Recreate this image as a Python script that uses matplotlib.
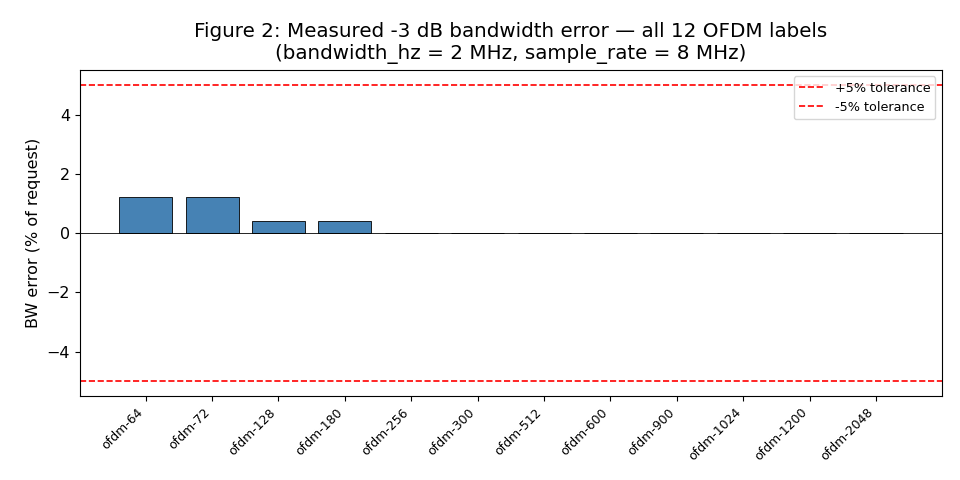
import matplotlib
matplotlib.use("Agg")
import matplotlib.pyplot as plt
import numpy as np

labels = ["ofdm-64", "ofdm-72", "ofdm-128", "ofdm-180", "ofdm-256", "ofdm-300",
          "ofdm-512", "ofdm-600", "ofdm-900", "ofdm-1024", "ofdm-1200", "ofdm-2048"]
bw_error_pct = [1.2, 1.2, 0.4, 0.4, 0.0, 0.0, 0.0, 0.0, 0.0, 0.0, 0.0, 0.0]
tolerance = 5.0

fig, ax = plt.subplots(figsize=(9.6, 4.8), dpi=100)
x = np.arange(len(labels))
ax.bar(x, bw_error_pct, width=0.8, color="steelblue", edgecolor="black", linewidth=0.6)
ax.axhline(tolerance, color="red", linestyle="--", linewidth=1.2, label="+5% tolerance")
ax.axhline(-tolerance, color="red", linestyle="--", linewidth=1.2, label="-5% tolerance")
ax.axhline(0, color="black", linewidth=0.6)
ax.set_xticks(x)
ax.set_xticklabels(labels, rotation=45, ha="right", fontsize=9)
ax.set_ylim(-5.5, 5.5)
ax.tick_params(axis="y", labelsize=11.5)
ax.set_ylabel("BW error (% of request)", fontsize=11.5)
ax.set_title("Figure 2: Measured -3 dB bandwidth error — all 12 OFDM labels\n"
             "(bandwidth_hz = 2 MHz, sample_rate = 8 MHz)", fontsize=14.3, pad=8)
ax.legend(loc="upper right", fontsize=9.2)
fig.subplots_adjust(left=0.0833, right=0.981, top=0.854, bottom=0.175)
fig.savefig("out.png", dpi=100)
